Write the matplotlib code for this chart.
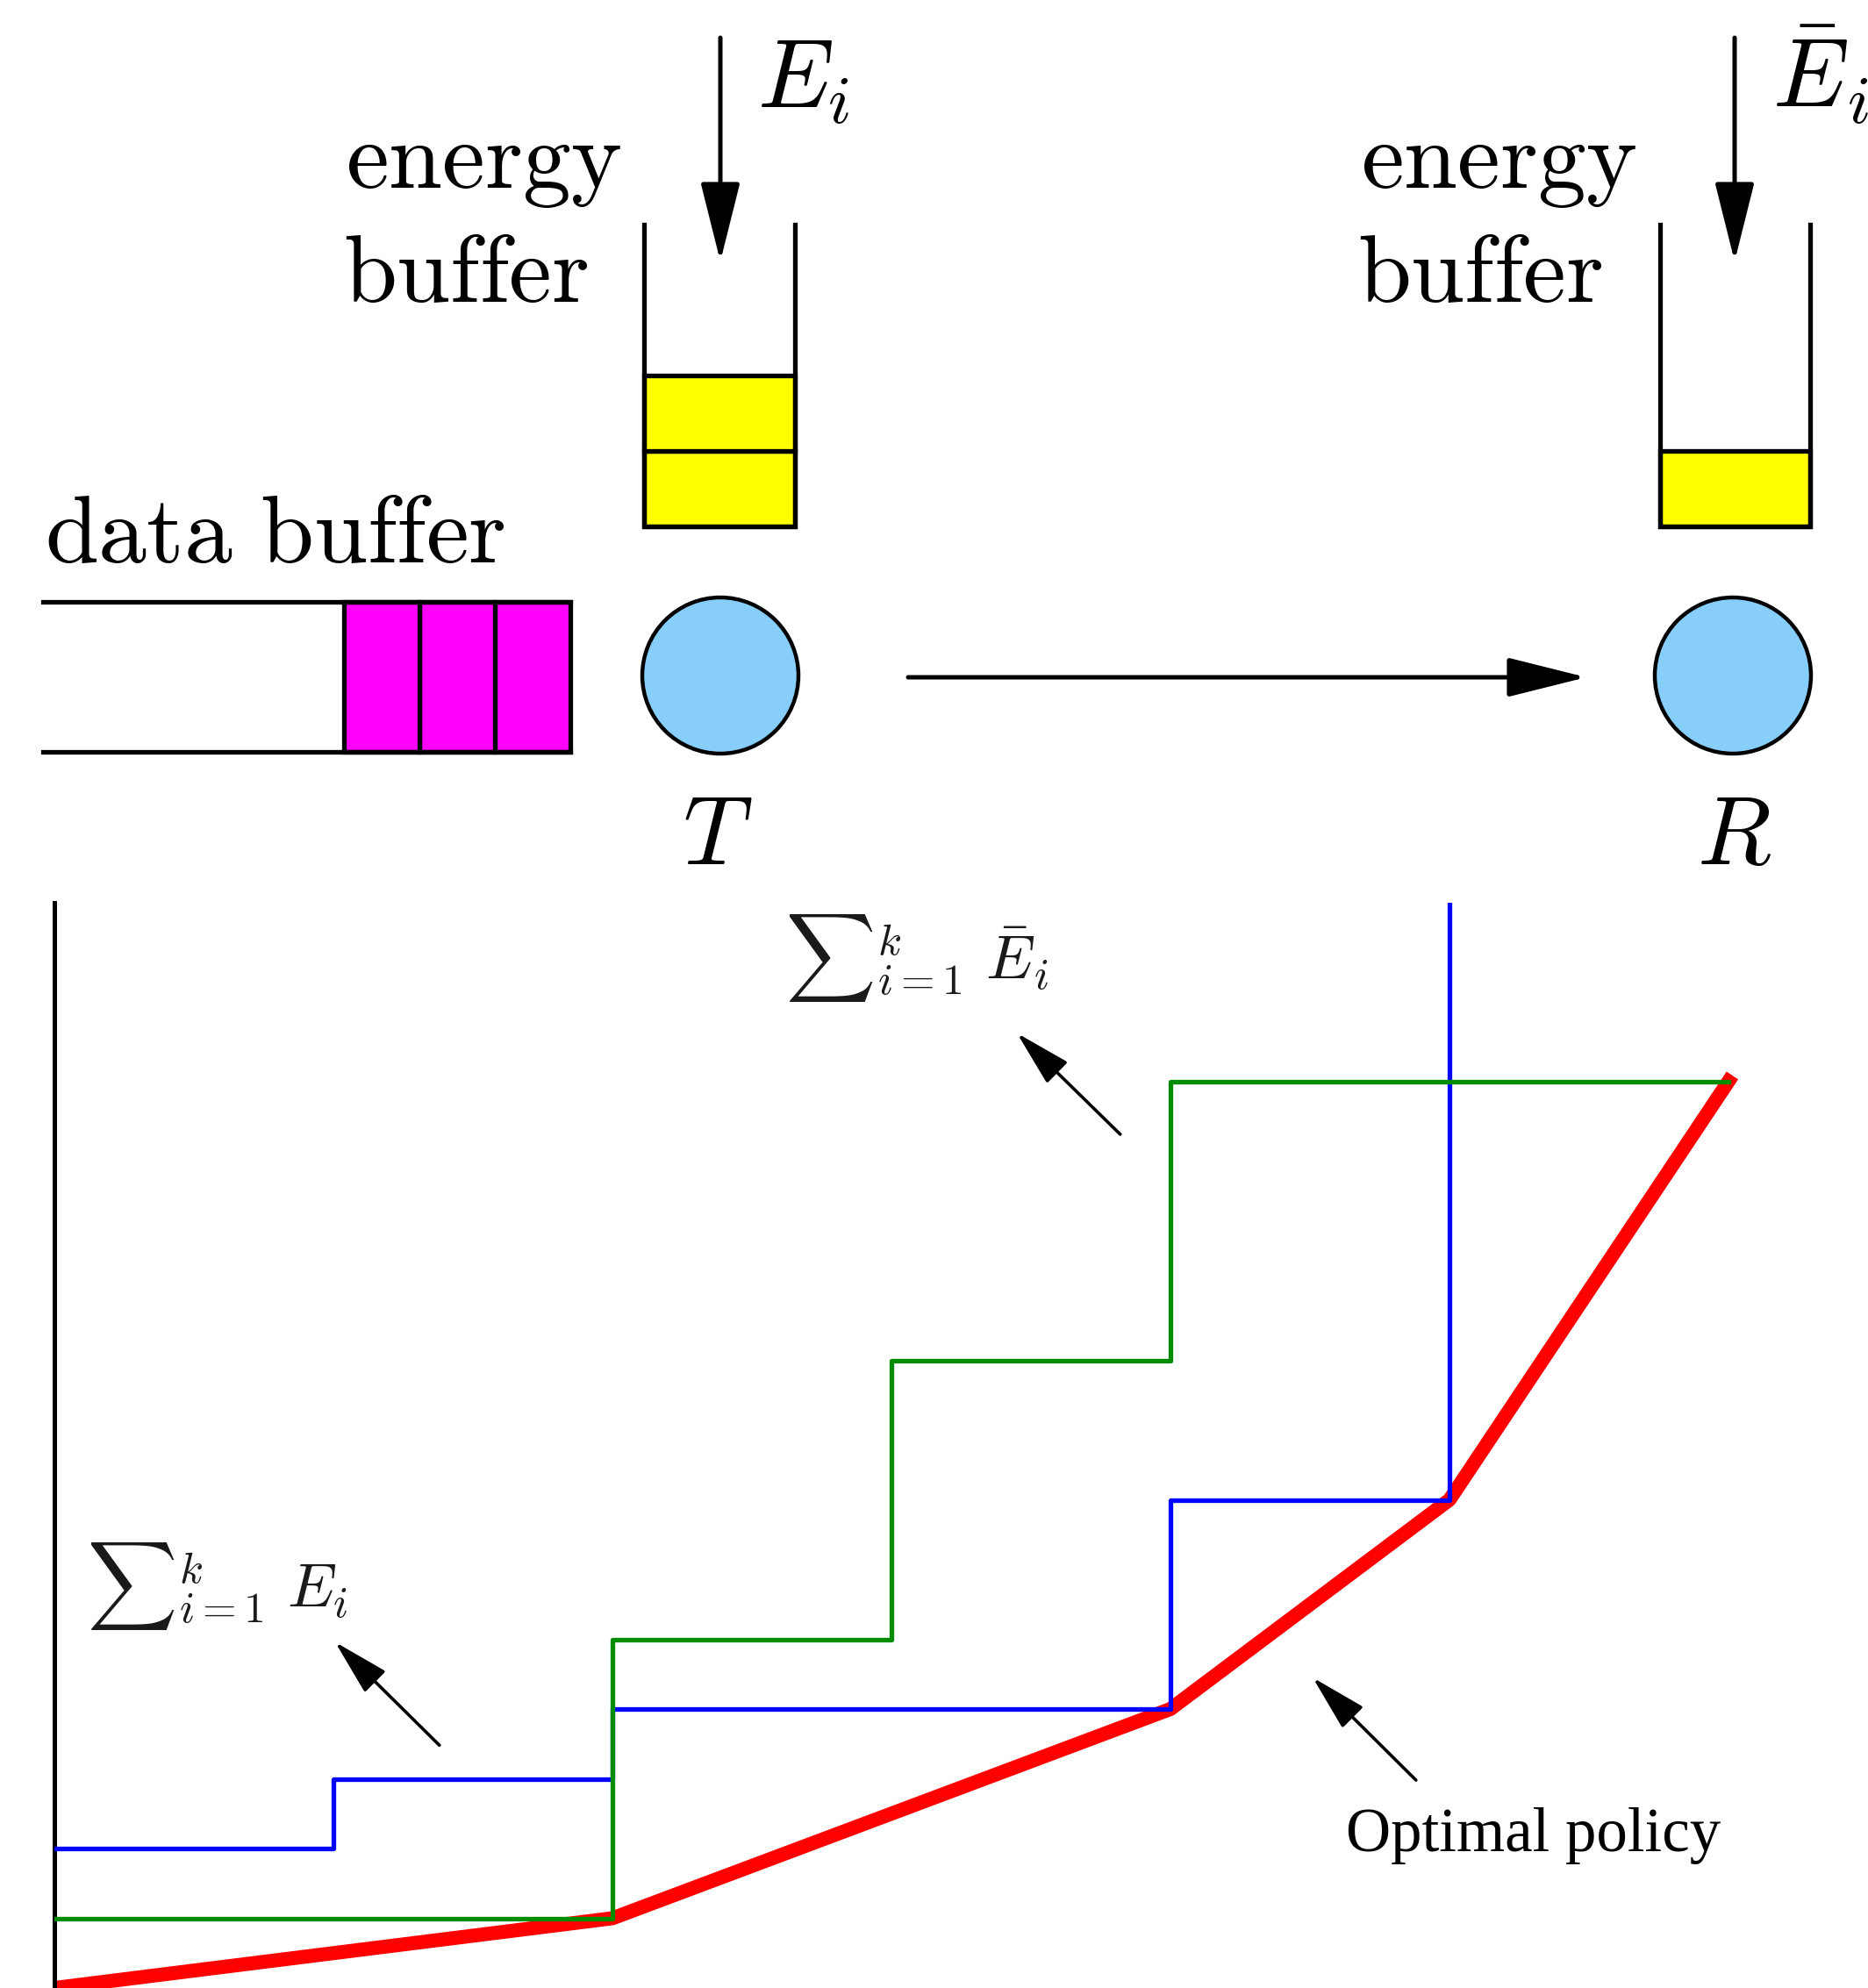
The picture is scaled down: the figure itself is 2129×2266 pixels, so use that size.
import matplotlib
matplotlib.use('agg')
import matplotlib.pyplot as plt
from matplotlib.patches import Rectangle, Circle
import numpy as np

plt.rcParams['mathtext.fontset'] = 'cm'

# cumulative energy curves (lower chart)
T_edges = [0, 1, 2, 4, 5]
T_levels = [2, 3, 4, 7]
R_edges = [0, 2, 3, 4, 6]
R_levels = [1, 5, 9, 13]
policy_x = [0, 2, 4, 5, 6]
policy_y = [0, 1, 4, 7, 13]

# buffer contents (upper sketch)
energy_units_T = 2
energy_units_R = 1
data_packets = 3

fig = plt.figure(figsize=(21.29, 22.66), dpi=100)

# ---------- upper sketch, pixel coordinates ----------
top = fig.add_axes([0, 0, 1, 1])
top.set_xlim(0, 2129)
top.set_ylim(2266, 0)
top.axis('off')

LW = 3.8
CELL = 86


def energy_buffer(xl, xr, y_top, y_bot, n):
    top.plot([xl, xl, xr, xr], [y_top, y_bot, y_bot, y_top], color='k', lw=LW, solid_joinstyle='miter')
    for k in range(n):
        top.add_patch(Rectangle((xl, y_bot - (k + 1) * CELL), xr - xl, CELL,
                                fc='yellow', ec='k', lw=LW))


def arrow(tail, tip, hl, hw, lw):
    top.annotate('', xy=tip, xytext=tail,
                 arrowprops=dict(arrowstyle='-|>,head_length=%g,head_width=%g' % (hl, hw),
                                 mutation_scale=100, color='k', lw=lw,
                                 shrinkA=0, shrinkB=0))


energy_buffer(734, 906, 256, 600, energy_units_T)
energy_buffer(1892, 2063, 256, 600, energy_units_R)

# data buffer
top.plot([49, 650], [686, 686], color='k', lw=LW)
top.plot([49, 650], [857, 857], color='k', lw=LW)
for k in range(data_packets):
    top.add_patch(Rectangle((650 - (k + 1) * CELL, 686), CELL, 171,
                            fc='magenta', ec='k', lw=LW))

top.add_patch(Circle((821, 770), 89, fc='#87cefa', ec='k', lw=3.2))
top.add_patch(Circle((1975, 770), 89, fc='#87cefa', ec='k', lw=3.2))

arrow((821, 43), (821, 298), 0.56, 0.14, 3.6)
arrow((1977, 43), (1977, 298), 0.56, 0.14, 3.6)
arrow((1035, 772), (1808, 772), 0.56, 0.14, 3.6)

FS = 79
top.text(394, 214, r'$\mathrm{energy}$', fontsize=FS, va='baseline')
top.text(391, 344, r'$\mathrm{buffer}$', fontsize=FS, va='baseline')
top.text(1551, 214, r'$\mathrm{energy}$', fontsize=FS, va='baseline')
top.text(1547, 344, r'$\mathrm{buffer}$', fontsize=FS, va='baseline')
top.text(51, 641, r'$\mathrm{data\ buffer}$', fontsize=FS, va='baseline')
top.text(863, 122, r'$E_i$', fontsize=FS, va='baseline')
top.text(2020, 122, r'$\bar{E}_i$', fontsize=FS, va='baseline')
top.text(818, 985, r'$T$', fontsize=FS, va='baseline', ha='center')
top.text(1976, 985, r'$R$', fontsize=FS, va='baseline', ha='center')

# ---------- lower chart ----------
ax = fig.add_axes([62 / 2129, 0, 318 * 6.5 / 2129, 1237 / 2266])
ax.patch.set_alpha(0)
ax.set_xlim(0, 6.5)
ax.set_ylim(0, 15.56)
for s in ['top', 'right', 'bottom']:
    ax.spines[s].set_visible(False)
ax.spines['left'].set_linewidth(3.6)
ax.set_xticks([])
ax.set_yticks([])


def steps(edges, levels):
    xs = np.repeat(edges, 2)[1:-1]
    ys = np.repeat(levels, 2)
    return xs, ys


ax.plot(policy_x, policy_y, color='#ff0000', lw=11.5, zorder=2)

bx, by = steps(T_edges, T_levels)
bx = np.append(bx, bx[-1])
by = np.append(by, ax.get_ylim()[1])
ax.plot(bx, by, color='#0000ff', lw=3.8, zorder=3)

gx, gy = steps(R_edges, R_levels)
ax.plot(gx, gy, color='#008c00', lw=3.8, zorder=3)

aprops = dict(arrowstyle='-|>,head_length=0.4,head_width=0.105', mutation_scale=100,
              color='k', lw=2.6, shrinkA=0, shrinkB=0)
ax.annotate('', xy=(1.006, 4.96), xytext=(1.38, 3.48), arrowprops=aprops)
ax.annotate('', xy=(3.45, 13.69), xytext=(3.82, 12.24), arrowprops=aprops)
ax.annotate('', xy=(4.51, 4.45), xytext=(4.88, 2.98), arrowprops=aprops)

ax.text(0.115, 5.46, r'${\sum}_{i=1}^{k}\ E_i$', fontsize=51, va='baseline', color='#1a1a1a')
ax.text(2.62, 14.47, r'${\sum}_{i=1}^{k}\ \bar{E}_i$', fontsize=51, va='baseline', color='#1a1a1a')

ax.text(4.63, 1.96, 'Optimal policy', fontsize=51, va='baseline',
        family='Liberation Serif')

fig.savefig('out.png', dpi=100)
